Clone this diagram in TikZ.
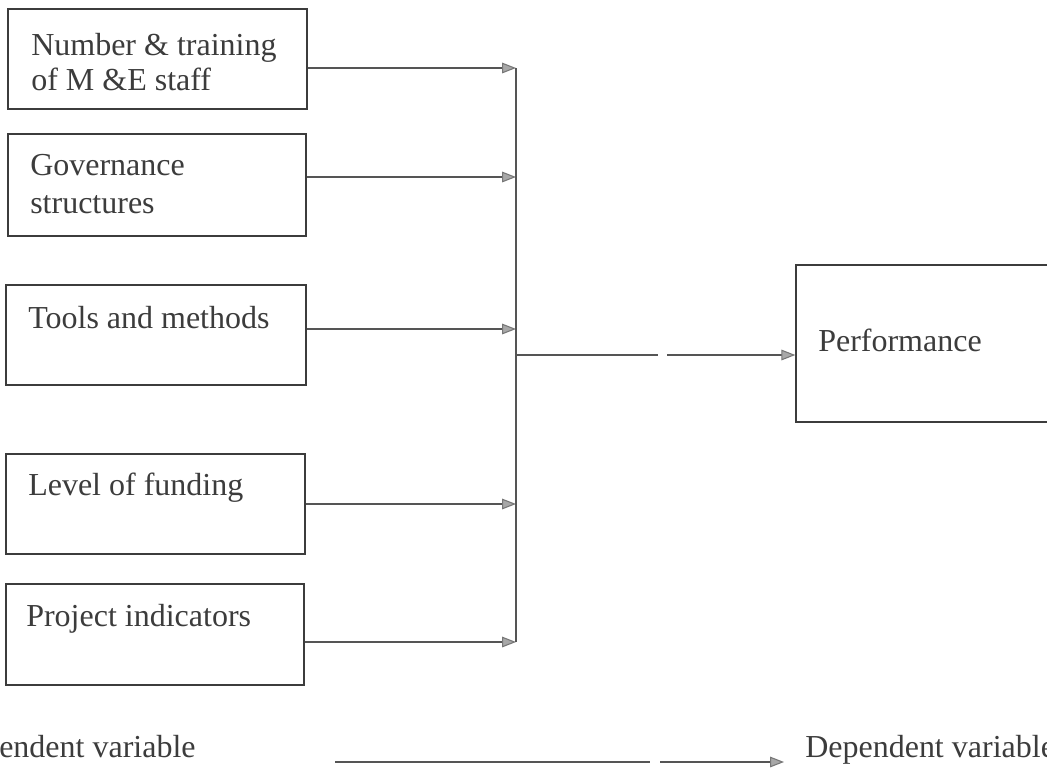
\documentclass[tikz,border=0pt]{standalone}
\usepackage{fontspec}
\setmainfont{Liberation Serif}
\usetikzlibrary{arrows.meta,fit}
\definecolor{ink}{HTML}{3C3C3C}
\definecolor{linec}{HTML}{555555}
\definecolor{tipc}{HTML}{A8A8A8}
\tikzset{
  box/.style={draw=ink, line width=1pt, inner sep=0pt},
  lbl/.style={anchor=base west, inner sep=0pt, text=ink, font=\fontsize{24}{27}\selectfont},
  conn/.style={draw=linec, line width=0.8pt},
  arr/.style={conn, -{Triangle[length=10.5pt,width=8pt,fill=tipc,color=linec!80]}}
}
\begin{document}
\begin{tikzpicture}[x=0.75pt,y=-0.75pt]
\useasboundingbox (0,0) rectangle (1047,776);
\fill[white] (0,0) rectangle (1047,776);
\clip (0,0) rectangle (1047,776);

% input boxes
\node[box, fit={(8,9) (307,109)}] (b1) {};
\node[box, fit={(8,134) (306,236)}] (b2) {};
\node[box, fit={(6,285) (306,385)}] (b3) {};
\node[box, fit={(6,454) (305,554)}] (b4) {};
\node[box, fit={(6,584) (304,685)}] (b5) {};
\node[box, fit={(796,265) (1060,422)}] (perf) {};

% labels
\node[lbl] (t1a) at (31,55) {Number \& training};
\node[lbl] (t1b) at (31,90) {of M \&E staff};
\node[lbl] (t2a) at (30,175) {Governance};
\node[lbl] (t2b) at (30,213) {structures};
\node[lbl] (t3) at (28,328) {Tools and methods};
\node[lbl] (t4) at (28,495) {Level of funding};
\node[lbl] (t5) at (26,626) {Project indicators};
\node[lbl] (tp) at (818,351) {Performance};
\node[lbl] (tiv) at (-1,757) {endent variable};
\node[lbl] (tdv) at (805,757) {Dependent variable};

% bus junctions
\coordinate (j1) at (516,68);
\coordinate (j2) at (516,177);
\coordinate (j3) at (516,329);
\coordinate (j4) at (516,504);
\coordinate (j5) at (516,642);
\coordinate (jo) at (516,355);
\coordinate (g1) at (658,355);
\coordinate (g2) at (667,355);

\draw[arr] (j1 -| b1.east) -- (j1);
\draw[arr] (j2 -| b2.east) -- (j2);
\draw[arr] (j3 -| b3.east) -- (j3);
\draw[arr] (j4 -| b4.east) -- (j4);
\draw[arr] (j5 -| b5.east) -- (j5);
\draw[conn] (j1) -- (j5);
\draw[conn] (jo) -- (g1);
\draw[arr] (g2) -- (g2 -| perf.west);

% legend arrow
\coordinate (l1) at (335,762);
\coordinate (l2) at (650,762);
\coordinate (l3) at (660,762);
\coordinate (l4) at (784,762);
\draw[conn] (l1) -- (l2);
\draw[arr] (l3) -- (l4);
\end{tikzpicture}
\end{document}
